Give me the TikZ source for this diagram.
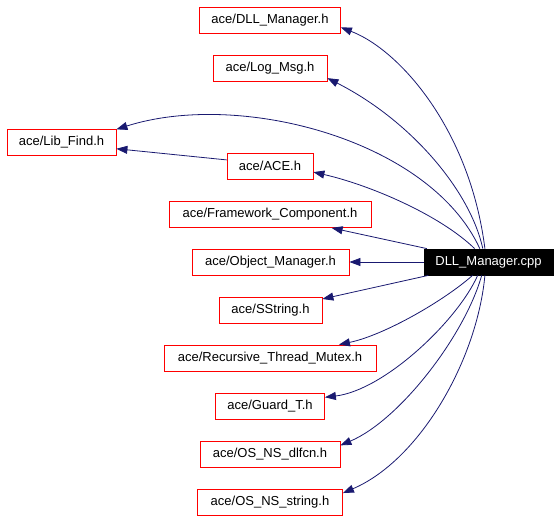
\documentclass[tikz,border=0pt]{standalone}
\usepackage{fontspec}
\setmainfont{Liberation Sans}
\usetikzlibrary{arrows.meta}
\definecolor{edgeblue}{HTML}{191970}

\begin{document}
\begin{tikzpicture}[x=1pt, y=-1pt,
    hdr/.style={draw=red, line width=0.8pt, minimum height=26pt, inner sep=0pt,
        font=\fontsize{13}{15}\selectfont},
    dep/.style={draw=edgeblue, line width=0.8pt, -{Triangle[length=11pt,width=8pt]}}]
    \useasboundingbox (0,0) rectangle (560,520);

    \node[hdr, minimum width=141pt] (dllh) at (270,20) {ace/DLL\_Manager.h};
    \node[hdr, minimum width=114pt] (logmsg) at (270,68) {ace/Log\_Msg.h};
    \node[hdr, minimum width=109pt] (libfind) at (61.5,142) {ace/Lib\_Find.h};
    \node[hdr, minimum width=86pt] (ace) at (270,166) {ace/ACE.h};
    \node[hdr, minimum width=202pt] (fwcomp) at (270,214.5) {ace/Framework\_Component.h};
    \node[hdr, minimum width=157pt] (objmgr) at (270.5,262) {ace/Object\_Manager.h};
    \node[hdr, minimum width=103pt] (sstring) at (270.5,310.5) {ace/SString.h};
    \node[hdr, minimum width=212pt] (rtmutex) at (270,358) {ace/Recursive\_Thread\_Mutex.h};
    \node[hdr, minimum width=109pt] (guard) at (270,406) {ace/Guard\_T.h};
    \node[hdr, minimum width=140pt] (dlfcn) at (270,454) {ace/OS\_NS\_dlfcn.h};
    \node[hdr, minimum width=145pt] (nsstring) at (270,502) {ace/OS\_NS\_string.h};

    \node[hdr, draw=black, fill=black, text=white, minimum width=129pt] (cpp) at (488.5,262) {DLL\_Manager.cpp};

    \draw[dep] (cpp.105) .. controls (470,130) and (400,50) .. (dllh.-6);
    \draw[dep] (cpp.113) .. controls (470,190) and (410,120) .. (logmsg.-10);
    \draw[dep] (cpp.123) .. controls (430,140) and (240,90) .. (libfind.13);
    \draw[dep] (cpp.136) .. controls (440,215) and (370,185) .. (ace.-8);
    \draw[dep] (ace.172) -- (libfind.-7);
    \draw[dep] (cpp) -- (fwcomp);
    \draw[dep] (cpp) -- (objmgr);
    \draw[dep] (cpp) -- (sstring);
    \draw[dep] (cpp.220) .. controls (445,300) and (385,335) .. (rtmutex.11);
    \draw[dep] (cpp.231) .. controls (458,320) and (385,390) .. (guard.9);
    \draw[dep] (cpp.243) .. controls (465,335) and (400,420) .. (dlfcn.7);
    \draw[dep] (cpp.255) .. controls (477,360) and (420,460) .. (nsstring.7);
\end{tikzpicture}
\end{document}
